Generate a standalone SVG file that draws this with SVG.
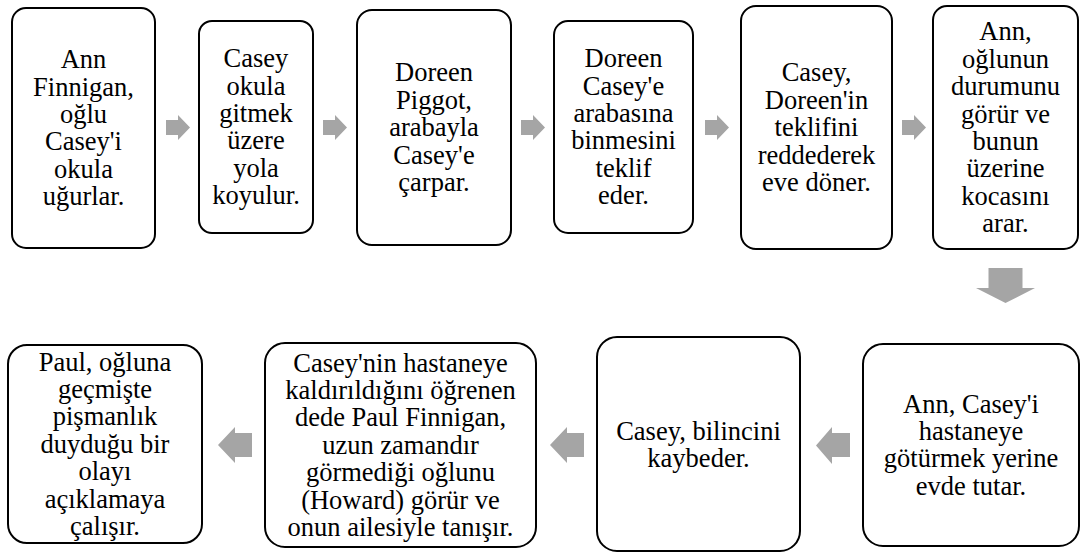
<svg xmlns="http://www.w3.org/2000/svg" width="1081" height="553" viewBox="0 0 1081 553">
  <style>
    .box { fill: #ffffff; stroke: #000000; stroke-width: 2; }
    .lbl { font-family: "Liberation Serif", "Times New Roman", serif; font-size: 26.5px; fill: #000000; text-anchor: middle; }
    .arrow { fill: #a5a5a5; stroke: none; }
  </style>

  <!-- top row, left to right -->
  <g id="step1">
    <rect class="box" x="12" y="8" width="143" height="240" rx="14"/>
    <text class="lbl"><tspan x="83.5" y="68.2">Ann</tspan><tspan x="83.5" y="95.6">Finnigan,</tspan><tspan x="83.5" y="123">oğlu</tspan><tspan x="83.5" y="150.4">Casey'i</tspan><tspan x="83.5" y="177.8">okula</tspan><tspan x="83.5" y="205.2">uğurlar.</tspan></text>
  </g>
  <g id="step2">
    <rect class="box" x="199" y="21" width="114" height="212" rx="13"/>
    <text class="lbl"><tspan x="256" y="67.2">Casey</tspan><tspan x="256" y="94.6">okula</tspan><tspan x="256" y="122">gitmek</tspan><tspan x="256" y="149.4">üzere</tspan><tspan x="256" y="176.8">yola</tspan><tspan x="256" y="204.2">koyulur.</tspan></text>
  </g>
  <g id="step3">
    <rect class="box" x="357" y="10" width="154" height="235" rx="15"/>
    <text class="lbl"><tspan x="434" y="81.4">Doreen</tspan><tspan x="434" y="108.8">Piggot,</tspan><tspan x="434" y="136.2">arabayla</tspan><tspan x="434" y="163.6">Casey'e</tspan><tspan x="434" y="191">çarpar.</tspan></text>
  </g>
  <g id="step4">
    <rect class="box" x="554" y="21" width="139" height="212" rx="14"/>
    <text class="lbl"><tspan x="623.5" y="67.2">Doreen</tspan><tspan x="623.5" y="94.6">Casey'e</tspan><tspan x="623.5" y="122">arabasına</tspan><tspan x="623.5" y="149.4">binmesini</tspan><tspan x="623.5" y="176.8">teklif</tspan><tspan x="623.5" y="204.2">eder.</tspan></text>
  </g>
  <g id="step5">
    <rect class="box" x="741" y="6" width="151" height="243" rx="15"/>
    <text class="lbl"><tspan x="816.5" y="81.4">Casey,</tspan><tspan x="816.5" y="108.8">Doreen'in</tspan><tspan x="816.5" y="136.2">teklifini</tspan><tspan x="816.5" y="163.6">reddederek</tspan><tspan x="816.5" y="191">eve döner.</tspan></text>
  </g>
  <g id="step6">
    <rect class="box" x="933" y="6" width="145" height="243" rx="14"/>
    <text class="lbl"><tspan x="1005.5" y="40.3">Ann,</tspan><tspan x="1005.5" y="67.7">oğlunun</tspan><tspan x="1005.5" y="95.1">durumunu</tspan><tspan x="1005.5" y="122.5">görür ve</tspan><tspan x="1005.5" y="149.9">bunun</tspan><tspan x="1005.5" y="177.3">üzerine</tspan><tspan x="1005.5" y="204.7">kocasını</tspan><tspan x="1005.5" y="232.1">arar.</tspan></text>
  </g>

  <!-- bottom row, right to left -->
  <g id="step7">
    <rect class="box" x="863" y="344" width="216" height="202" rx="20"/>
    <text class="lbl"><tspan x="971" y="412.6">Ann, Casey'i</tspan><tspan x="971" y="440">hastaneye</tspan><tspan x="971" y="467.4">götürmek yerine</tspan><tspan x="971" y="494.8">evde tutar.</tspan></text>
  </g>
  <g id="step8">
    <rect class="box" x="597" y="337" width="203" height="214" rx="20"/>
    <text class="lbl"><tspan x="698.5" y="439.5">Casey, bilincini</tspan><tspan x="698.5" y="466.9">kaybeder.</tspan></text>
  </g>
  <g id="step9">
    <rect class="box" x="265" y="343" width="271" height="204" rx="20"/>
    <text class="lbl"><tspan x="400.5" y="371.5">Casey'nin hastaneye</tspan><tspan x="400.5" y="398.9">kaldırıldığını öğrenen</tspan><tspan x="400.5" y="426.3">dede Paul Finnigan,</tspan><tspan x="400.5" y="453.7">uzun zamandır</tspan><tspan x="400.5" y="481.1">görmediği oğlunu</tspan><tspan x="400.5" y="508.5">(Howard) görür ve</tspan><tspan x="400.5" y="535.9">onun ailesiyle tanışır.</tspan></text>
  </g>
  <g id="step10">
    <rect class="box" x="8" y="345" width="194" height="198" rx="19"/>
    <text class="lbl"><tspan x="105" y="370.5">Paul, oğluna</tspan><tspan x="105" y="397.9">geçmişte</tspan><tspan x="105" y="425.3">pişmanlık</tspan><tspan x="105" y="452.7">duyduğu bir</tspan><tspan x="105" y="480.1">olayı</tspan><tspan x="105" y="507.5">açıklamaya</tspan><tspan x="105" y="534.9">çalışır.</tspan></text>
  </g>

  <!-- connectors: block arrows between steps -->
  <g id="connectors">
    <path class="arrow" d="M166,120 H178 V115 L190,127.5 L178,140 V135 H166 Z"/>
    <path class="arrow" d="M323,120 H335 V115 L347,127.5 L335,140 V135 H323 Z"/>
    <path class="arrow" d="M521,120 H533 V115 L545,127.5 L533,140 V135 H521 Z"/>
    <path class="arrow" d="M705,120 H717 V115 L729,127.5 L717,140 V135 H705 Z"/>
    <path class="arrow" d="M902,120 H914 V115 L926,127.5 L914,140 V135 H902 Z"/>
    <path class="arrow" d="M988.5,268 H1022.5 V288 H1035 L1005.5,303 L976,288 H988.5 Z"/>
    <path class="arrow" d="M850,433 H832 V427 L816,445.5 L832,464 V457 H850 Z"/>
    <path class="arrow" d="M584,433 H567 V427 L550,445 L567,463 V457 H584 Z"/>
    <path class="arrow" d="M252,433 H235 V427 L218,445 L235,463 V457 H252 Z"/>
  </g>
</svg>
